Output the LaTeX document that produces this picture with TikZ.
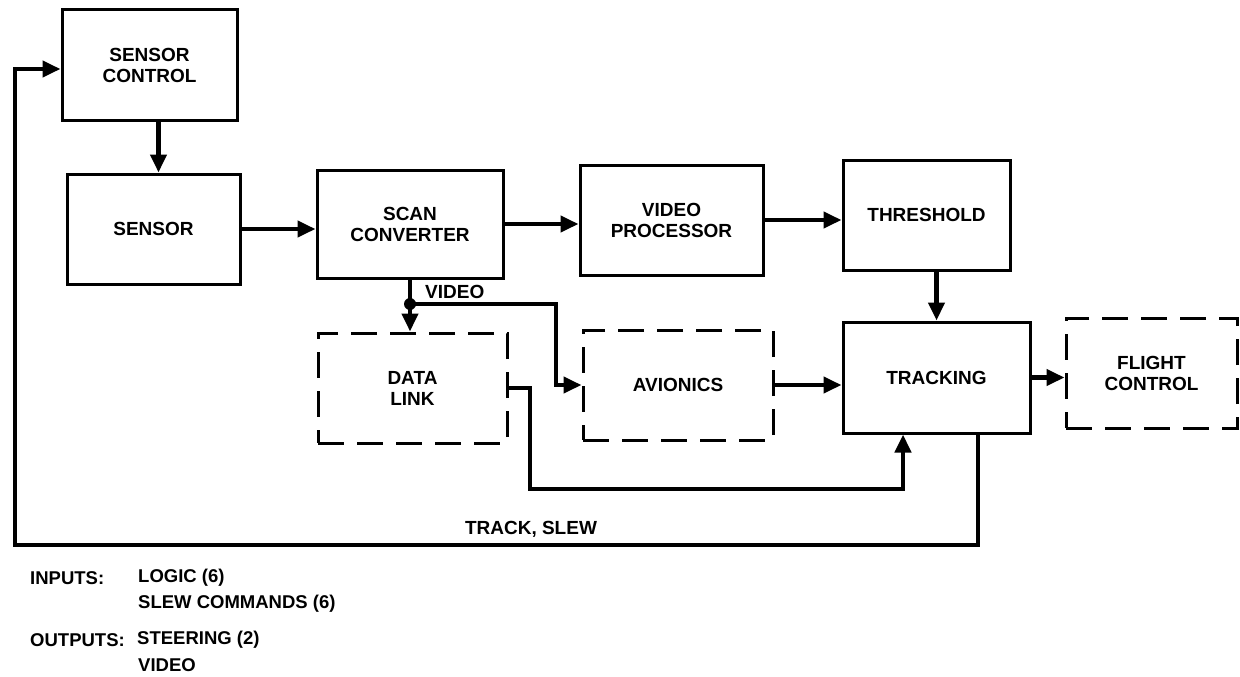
\documentclass[tikz,border=0pt]{standalone}
\usepackage{fontspec}
\setmainfont{Liberation Sans}
\usetikzlibrary{arrows.meta,calc}
\begin{document}
\begin{tikzpicture}[x=1pt,y=-1pt,
  lbl/.style={font=\fontsize{19}{21}\selectfont\bfseries, align=center},
  blk/.style={draw, line width=3pt, lbl, inner sep=0pt},
  opt/.style={blk, dash pattern=on 26pt off 13pt},
  flow/.style={line width=4.4pt, -{Triangle[length=18pt,width=16pt]}},
  txt/.style={font=\fontsize{18.5}{21}\selectfont\bfseries, anchor=west, inner sep=0pt}]
\useasboundingbox (0,0) rectangle (1240,677);

% processing blocks
\node[blk, minimum width=175pt, minimum height=110pt] (sctrl) at (149.5,65) {SENSOR\\CONTROL};
\node[blk, minimum width=173pt, minimum height=110pt] (sensor) at (153.5,229) {SENSOR};
\node[blk, minimum width=186pt, minimum height=108pt] (scan) at (410,224) {SCAN\\CONVERTER};
\node[blk, minimum width=183pt, minimum height=110pt] (vproc) at (671.5,220) {VIDEO\\PROCESSOR};
\node[blk, minimum width=167pt, minimum height=110pt] (thr) at (926.5,215) {THRESHOLD};
\node[blk, minimum width=187pt, minimum height=111pt] (trk) at (936.5,377.5) {TRACKING};

% external (dashed) blocks
\node[opt, minimum width=189pt, minimum height=110pt] (dlink) at (412.5,388) {DATA\\LINK};
\node[opt, minimum width=190pt, minimum height=110pt] (avio) at (678,385) {AVIONICS};
\node[opt, minimum width=171pt, minimum height=110pt] (fc) at (1151.5,373) {FLIGHT\\CONTROL};

% main chain
\draw[flow] ([xshift=9pt]sctrl.south) -- ([xshift=9pt]sctrl.south |- sensor.north);
\draw[flow] (sensor.east) -- (sensor.east -| scan.west);
\draw[flow] (scan.east) -- (scan.east -| vproc.west);
\draw[flow] (vproc.east) -- (vproc.east -| thr.west);
\draw[flow] (trk.north |- thr.south) -- (trk.north);

% video distribution
\coordinate (j) at (scan.south |- 0,304);
\coordinate (vb) at (556,304);
\draw[flow] (scan.south) -- (scan.south |- dlink.north);
\fill (j) circle (6pt);
\draw[flow] (j) -- (vb) |- (avio.west);
\node[lbl, anchor=west, inner sep=0pt] (vlbl) at (425,292) {VIDEO};

% into tracking
\draw[flow] (avio.east) -- (avio.east -| trk.west);
\coordinate (d1) at (530,489);
\coordinate (d2) at (903,489);
\draw[flow] (dlink.east) -| (d1) -- (d2) -- (d2 |- trk.south);
\draw[flow] (trk.east) -- (trk.east -| fc.west);

% track / slew feedback loop
\coordinate (f1) at (978,545);
\coordinate (f2) at (15,545);
\coordinate (f3) at (15,69);
\draw[flow] (f1 |- trk.south) -- (f1) -- (f2) -- (f3) -- (f3 -| sctrl.west);
\node[lbl] (tslbl) at (531,529) {TRACK, SLEW};

% interface summary
\node[txt] (inp) at (30,578) {INPUTS:};
\node[txt] (in1) at (138,578) {LOGIC (6)};
\node[txt] (in2) at (138,604) {SLEW COMMANDS (6)};
\node[txt] (outp) at (30,640) {OUTPUTS:};
\node[txt] (out1) at (137,640) {STEERING (2)};
\node[txt] (out2) at (138,665) {VIDEO};
\end{tikzpicture}
\end{document}
